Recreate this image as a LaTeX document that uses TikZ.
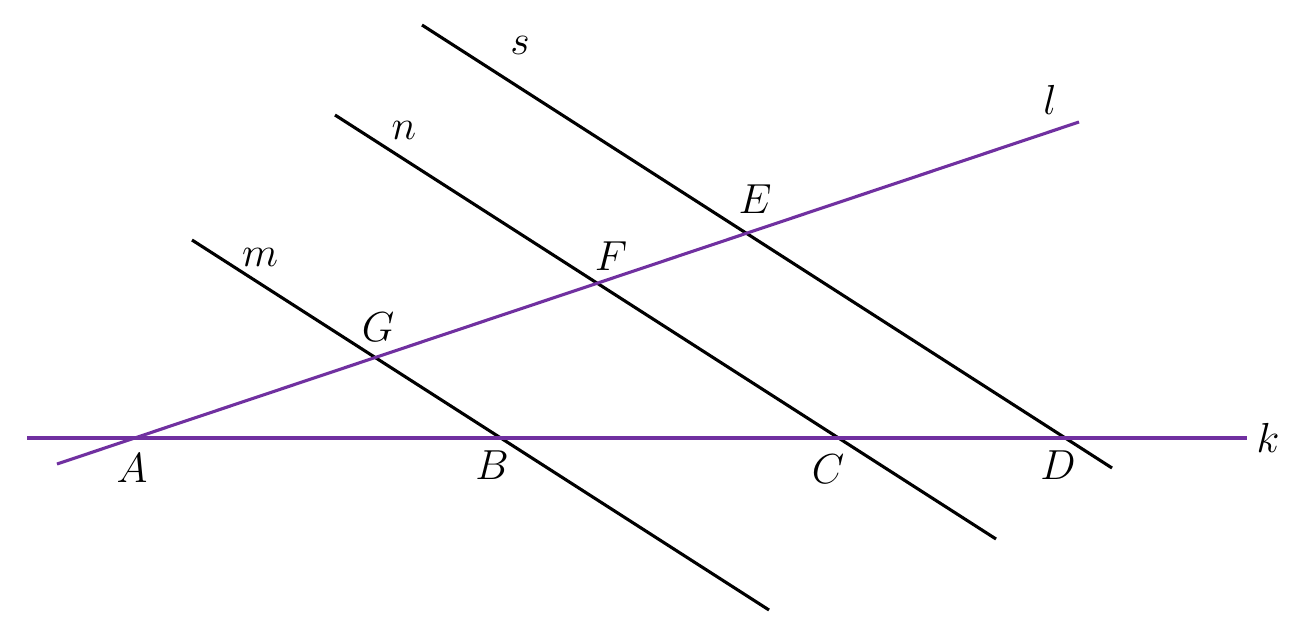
\documentclass[tikz,border=0pt]{standalone}
\usepackage{fix-cm}
\definecolor{lpurple}{RGB}{112,48,160}
\tikzset{
  blackline/.style={draw=black, line width=3.1pt},
  purpleline/.style={draw=lpurple, line width=3.1pt},
  lbl/.style={inner sep=0pt, font=\fontsize{42}{50}\selectfont}
}
\begin{document}
\begin{tikzpicture}[x=1pt, y=-1pt]
\useasboundingbox (0,0) rectangle (1305,632);
% line end points
\coordinate (k1) at (27,438);   \coordinate (k2) at (1247,438);
\coordinate (l1) at (57,464);   \coordinate (l2) at (1079,122);
\coordinate (m1) at (192,240);  \coordinate (m2) at (769,610);
\coordinate (n1) at (335,115);  \coordinate (n2) at (996,539);
\coordinate (s1) at (422,25);   \coordinate (s2) at (1112,468);
% lines
\draw[blackline] (m1) -- (m2);
\draw[blackline] (n1) -- (n2);
\draw[blackline] (s1) -- (s2);
\draw[purpleline] (k1) -- (k2);
\draw[purpleline] (l1) -- (l2);
% labels
\node[lbl] (A) at (132,468) {$A$};
\node[lbl] (B) at (492,465) {$B$};
\node[lbl] (C) at (828,469) {$C$};
\node[lbl] (D) at (1058,465) {$D$};
\node[lbl] (E) at (755,199) {$E$};
\node[lbl] (F) at (611,256) {$F$};
\node[lbl] (G) at (378,327) {$G$};
\node[lbl] (m) at (260,257) {$m$};
\node[lbl] (n) at (404,130) {$n$};
\node[lbl] (s) at (520,45) {$s$};
\node[lbl] (l) at (1050,100) {$l$};
\node[lbl] (k) at (1268,438) {$k$};
\end{tikzpicture}
\end{document}
